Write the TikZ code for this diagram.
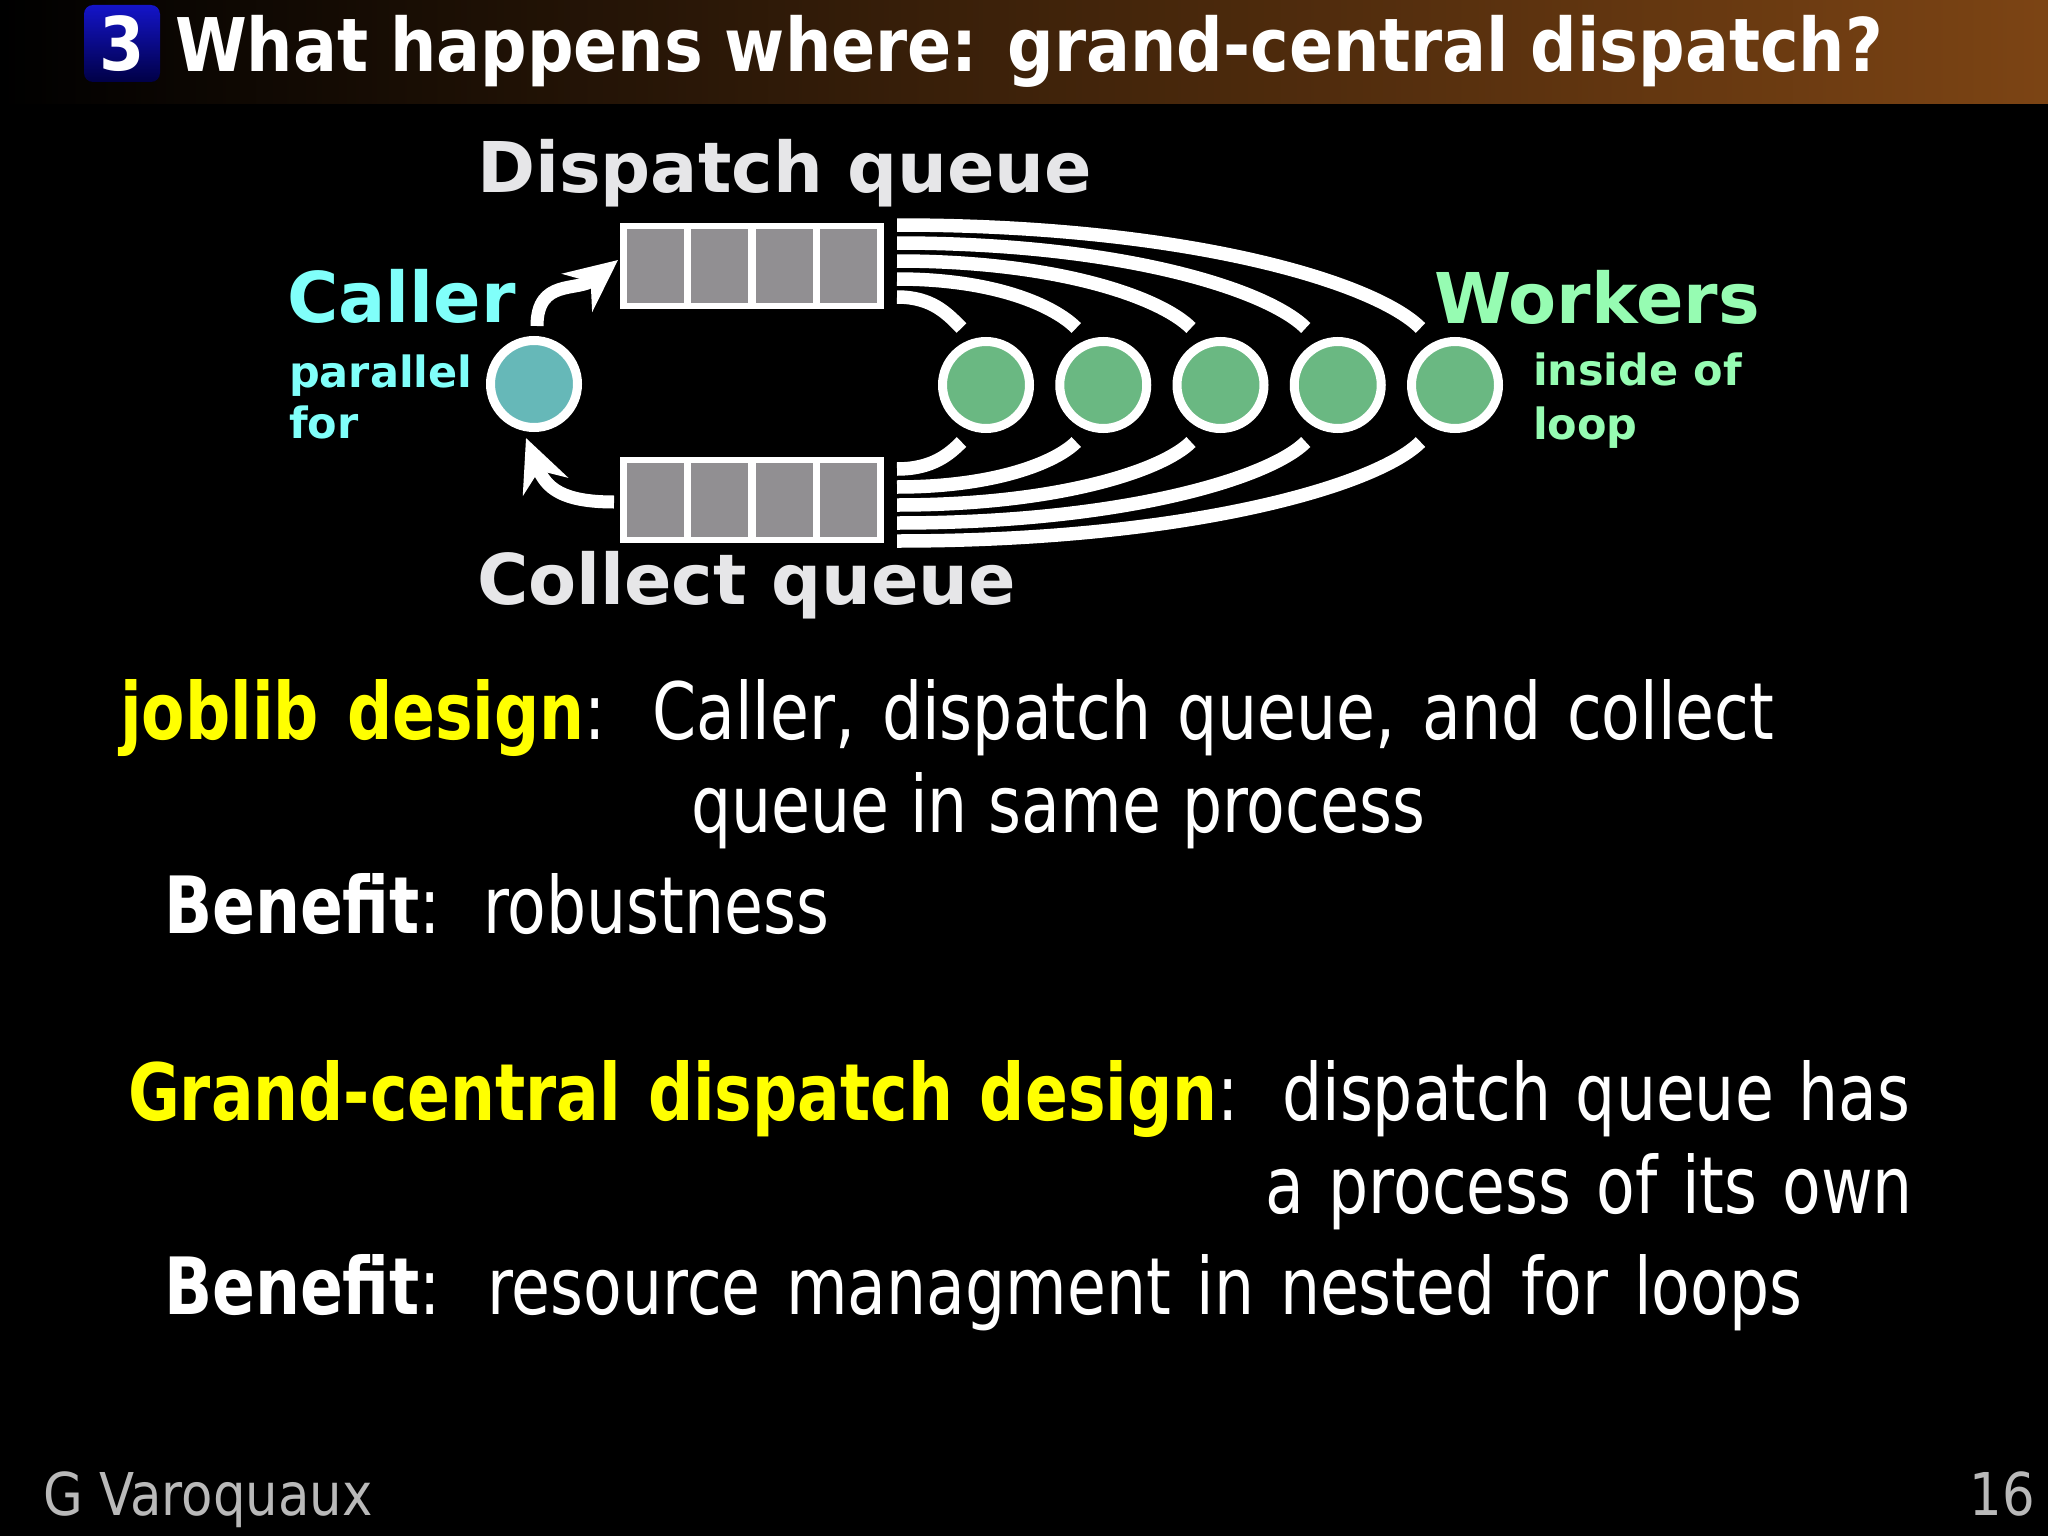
\documentclass[tikz,border=0pt]{standalone}
\usepackage{fontspec}
\setmainfont{DejaVu Sans}
\newfontfamily\bodyf{DejaVu Sans}[FakeStretch=0.8]
\newfontfamily\titlef{DejaVu Sans}[FakeStretch=0.88]
\newfontfamily\footf{DejaVu Sans}[FakeStretch=0.87]
\usetikzlibrary{calc,arrows.meta}
\definecolor{titlebrown}{RGB}{124,68,20}
\definecolor{badgeblue}{RGB}{20,20,200}
\definecolor{badgedark}{RGB}{0,0,70}
\definecolor{qgray}{RGB}{145,143,146}
\definecolor{lblgray}{RGB}{230,230,232}
\definecolor{callertxt}{RGB}{128,255,250}
\definecolor{callerfill}{RGB}{102,184,184}
\definecolor{workertxt}{RGB}{150,252,178}
\definecolor{workerfill}{RGB}{106,184,130}
\definecolor{footgray}{RGB}{185,185,185}
\definecolor{hl}{RGB}{255,255,0}
\newcommand\bodysize{\bodyf\fontsize{79}{90}\selectfont}
\newcommand\lblbig{\bfseries\fontsize{70}{80}\selectfont}
\newcommand\lblsmall{\bfseries\fontsize{43}{50}\selectfont}
\tikzset{
  txt/.style={anchor=base west, inner sep=0pt, outer sep=0pt},
  queuebox/.style={rectangle, fill=white, minimum width=264pt, minimum height=86pt, inner sep=0pt, outer sep=0pt},
  proc/.style={circle, draw=white, line width=9pt, minimum size=87pt, inner sep=0pt},
  flow/.style={draw=white, line width=13pt, -{Stealth[length=52pt,width=48pt,inset=17pt]}},
  fan/.style={draw=white, line width=13.5pt},
}
\begin{document}
\begin{tikzpicture}[x=1pt,y=-1pt]
\fill[black] (0,0) rectangle (2048,1536);
\useasboundingbox (0,0) rectangle (2048,1536);
% title bar
\shade[left color=black, right color=titlebrown] (0,0) rectangle (2048,104);
\node[rectangle, rounded corners=9pt, minimum width=76pt, minimum height=77pt, inner sep=0pt,
      top color=badgeblue, bottom color=badgedark, text=white] (badge) at (122,43.5)
      {\titlef\bfseries\fontsize{74}{80}\selectfont 3};
\node[txt, text=white] (title) at (175,72)
      {\titlef\bfseries\fontsize{74}{80}\selectfont\makebox[1708pt][s]{What happens where: grand-central dispatch?}};
% queues
\node[queuebox] (dq) at (752,266) {};
\node[queuebox] (cq) at (752,500) {};
\foreach \k in {0,...,3} {
  \fill[qgray] ($(dq.north west)+({7+64.3*\k},6)$) rectangle ++(57,74);
  \fill[qgray] ($(cq.north west)+({7+64.3*\k},6)$) rectangle ++(57,74);
}
% processes
\node[proc, fill=callerfill] (cl) at (534,384) {};
\foreach \i in {1,...,5} \node[proc, fill=workerfill] (w\i) at ({986+117.25*(\i-1)},385) {};
% labels
\node[txt, text=lblgray] (dql) at (477,193) {\lblbig Dispatch queue};
\node[txt, text=lblgray] (cql) at (477,604) {\lblbig Collect queue};
\node[txt, text=callertxt] (cll) at (287,322) {\lblbig Caller};
\node[txt, text=callertxt] (clp) at (289,387) {\lblsmall parallel};
\node[txt, text=callertxt] (clf) at (289,438) {\lblsmall for};
\node[txt, text=workertxt] (wl) at (1434,323) {\lblbig Workers};
\node[txt, text=workertxt] (wi) at (1533,385) {\lblsmall inside of};
\node[txt, text=workertxt] (wo) at (1533,439) {\lblsmall loop};
% caller arrows
\draw[flow] ($(cl.north)+(3,-10)$) .. controls +(0,-48) and +(-40,32) .. ($(dq.west)+(-2,-6)$);
\draw[flow] ($(cq.west)+(-6,2)$) .. controls +(-52,0) and +(20,50) .. ($(cl.south)+(-8,6)$);
% fan lines
\foreach \i in {1,...,5} {
  \coordinate (ts\i) at ($(dq.north east)+(13,{74-18*(\i-1)})$);
  \coordinate (te\i) at ($(w\i.center)+({-22-2.5*\i},-57)$);
  \coordinate (bs\i) at ($(cq.south east)+(13,{-74+18*(\i-1)})$);
  \coordinate (be\i) at ($(w\i.center)+({-22-2.5*\i},57)$);
  \draw[fan] let \p1=(ts\i), \p2=(te\i) in (\p1) .. controls ({\x1+0.55*(\x2-\x1)},\y1) and ({\x2-0.45*abs(\y1-\y2)},{\y2+0.45*(\y1-\y2)}) .. (\p2);
  \draw[fan] let \p1=(bs\i), \p2=(be\i) in (\p1) .. controls ({\x1+0.55*(\x2-\x1)},\y1) and ({\x2-0.45*abs(\y1-\y2)},{\y2+0.45*(\y1-\y2)}) .. (\p2);
}
% body text
\node[txt, text=white] (l1) at (120,739) {\bodysize\makebox[1654pt][s]{\textcolor{hl}{\bfseries joblib design}:\hspace{8pt} Caller, dispatch queue, and collect}};
\node[txt, text=white] (l2) at (691,832) {\bodysize\makebox[734pt][s]{queue in same process}};
\node[txt, text=white] (b1) at (164,933) {\bodysize\makebox[665pt][s]{\bfseries Benefit\mdseries:\hspace{8pt} robustness}};
\node[txt, text=white] (g1) at (128,1120) {\bodysize\makebox[1782pt][s]{\textcolor{hl}{\bfseries Grand-central dispatch design}:\hspace{8pt} dispatch queue has}};
\node[txt, anchor=base east, text=white] (g2) at (1913,1213) {\bodysize\makebox[648pt][s]{a process of its own}};
\node[txt, text=white] (b2) at (164,1314) {\bodysize\makebox[1638pt][s]{\bfseries Benefit\mdseries:\hspace{8pt} resource managment in nested for loops}};
% footer
\node[txt, text=footgray] (foot) at (43,1515) {\footf\fontsize{59}{60}\selectfont G Varoquaux};
\node[txt, anchor=base east, text=footgray] (page) at (2035,1515) {\footf\fontsize{59}{60}\selectfont 16};
\end{tikzpicture}
\end{document}
